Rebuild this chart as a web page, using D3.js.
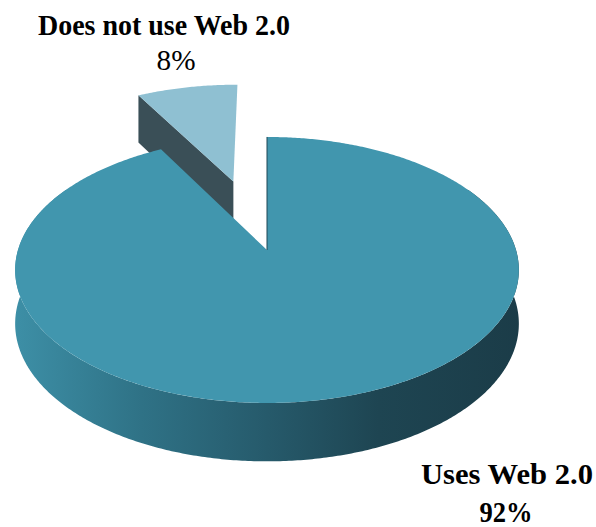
<!DOCTYPE html>
<html>
<head>
<meta charset="utf-8">
<script src="https://cdn.jsdelivr.net/npm/d3@7"></script>
<style>
  html, body { margin: 0; padding: 0; background: #fff; }
  svg { display: block; }
</style>
</head>
<body>
<svg id="chart" width="596" height="527"></svg>
<script>
// ---- data ----
const categories = ["Uses Web 2.0", "Does not use Web 2.0"];
const values = [92, 8];
const pctLabels = ["92%", "8%"];
const exploded = [false, true];

// ---- layout / styles ----
const cx = 267, cy = 250;      // projected pie centre (apex)
const A = 249, B = 130, k = 0.15; // perspective projection params
const depth = 53;              // base thickness
const explodeDist = 0.59;      // fraction of radius
const topColors = ["#4196ae", "#8fc0d2"];
const sideDark = "#3a4f57";

const svg = d3.select("#chart");
const defs = svg.append("defs");
const grad = defs.append("linearGradient")
  .attr("id", "sideGrad").attr("gradientUnits", "userSpaceOnUse")
  .attr("x1", 15).attr("y1", 0).attr("x2", 520).attr("y2", 0);
[[0, "#3d8fa6"], [0.25, "#2f7286"], [0.5, "#265a6b"], [0.72, "#1e4552"], [1, "#1b3c48"]]
  .forEach(([o, c]) => grad.append("stop").attr("offset", o).attr("stop-color", c));

const pie = d3.pie().sort(null).value(d => d).startAngle(0).endAngle(2 * Math.PI);
const arcs = pie(values);

function proj(X, Z, drop) {
  const w = 1 + k * Z;
  return [cx + A * X / w, cy - B * Z / w + (drop ? depth / Math.pow(w, 0.6) : 0)];
}
function arcPts(a0, a1, ox, oz, drop) {
  const n = Math.max(8, Math.ceil(Math.abs(a1 - a0) / 0.01));
  const s = d3.scaleLinear().domain([0, n]).range([a0, a1]);
  return d3.range(n + 1).map(i => {
    const a = s(i);
    return proj(ox + Math.sin(a), oz + Math.cos(a), drop);
  });
}
const line = d3.line().curve(d3.curveLinearClosed);

// exploded slice(s) drawn first (they sit behind)
arcs.forEach((d, i) => {
  if (!exploded[i]) return;
  const mid = (d.startAngle + d.endAngle) / 2;
  const ox = explodeDist * Math.sin(mid), oz = explodeDist * Math.cos(mid);
  const edgeTop = proj(ox + Math.sin(d.startAngle), oz + Math.cos(d.startAngle), false);
  const edgeBot = proj(ox + Math.sin(d.startAngle), oz + Math.cos(d.startAngle), true);
  const apexTop = proj(ox, oz, false), apexBot = proj(ox, oz, true);
  svg.append("path").attr("d", line([apexTop, edgeTop, edgeBot, apexBot]))
    .attr("fill", sideDark);
  svg.append("path")
    .attr("d", line([apexTop].concat(arcPts(d.startAngle, d.endAngle, ox, oz, false))))
    .attr("fill", topColors[i]);
});

// main slice(s)
arcs.forEach((d, i) => {
  if (exploded[i]) return;
  const a0 = Math.max(d.startAngle, Math.PI / 3), a1 = Math.min(d.endAngle, 5 * Math.PI / 3);
  const topEdge = arcPts(a0, a1, 0, 0, false);
  const botEdge = arcPts(a0, a1, 0, 0, true).reverse();
  svg.append("path").attr("d", line(topEdge.concat(botEdge))).attr("fill", "url(#sideGrad)");
  svg.append("path")
    .attr("d", line([proj(0, 0, false)].concat(arcPts(d.startAngle, d.endAngle, 0, 0, false))))
    .attr("fill", topColors[i]);
  const p0 = proj(0, 0, false), p1 = proj(Math.sin(d.startAngle), Math.cos(d.startAngle), false);
  svg.append("line").attr("x1", p0[0]).attr("y1", p0[1]).attr("x2", p1[0]).attr("y2", p1[1])
    .attr("stroke", "#1f4654").attr("stroke-width", 1);
});

// labels
const labelPos = [
  { x: 507, y1: 484, x2: 506, y2: 522, len1: 172, len2: 53, pctBold: true },
  { x: 164, y1: 35, x2: 176, y2: 70, len1: 252, len2: 39, pctBold: false }
];
const font = "'Liberation Serif', 'DejaVu Serif', serif";
categories.forEach((c, i) => {
  const p = labelPos[i];
  svg.append("text").attr("x", p.x).attr("y", p.y1).attr("text-anchor", "middle")
    .attr("font-family", font).attr("font-size", 29).attr("font-weight", "bold")
    .attr("textLength", p.len1).attr("lengthAdjust", "spacingAndGlyphs")
    .attr("fill", "#000").text(c);
  svg.append("text").attr("x", p.x2).attr("y", p.y2).attr("text-anchor", "middle")
    .attr("font-family", font).attr("font-size", 30)
    .attr("font-weight", p.pctBold ? "bold" : "normal")
    .attr("textLength", p.len2).attr("lengthAdjust", "spacingAndGlyphs")
    .attr("fill", "#000").text(pctLabels[i]);
});
</script>
</body>
</html>
